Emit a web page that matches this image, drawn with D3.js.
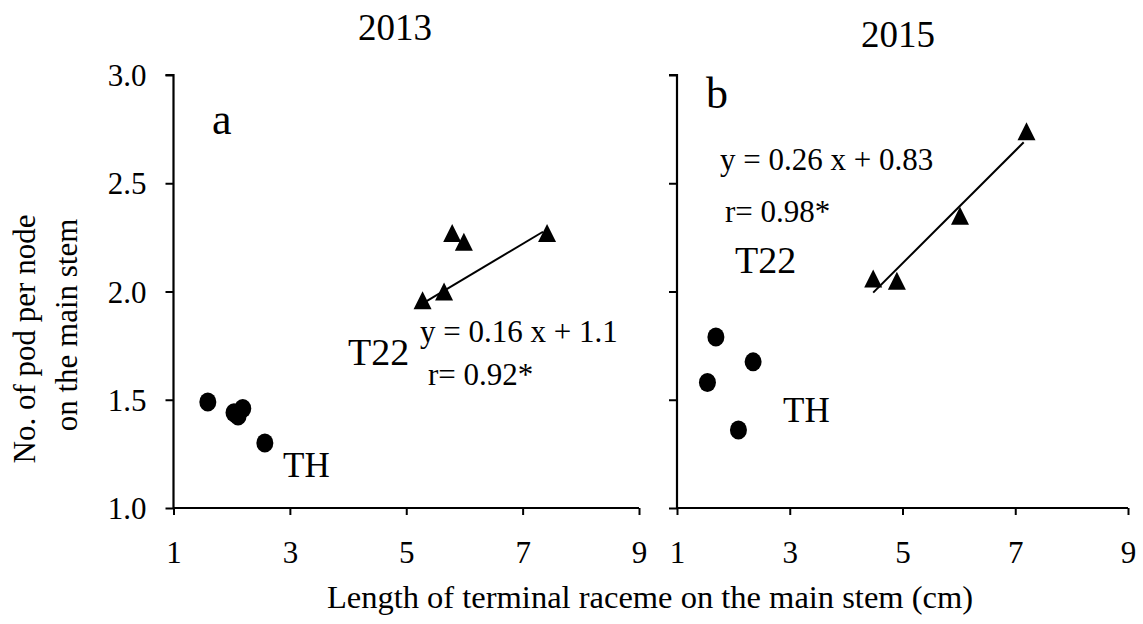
<!DOCTYPE html>
<html>
<head>
<meta charset="utf-8">
<script src="https://cdn.jsdelivr.net/npm/d3@7"></script>
<style>
  body { margin: 0; background: #fff; }
  text { font-family: "Liberation Serif", "Times New Roman", serif; fill: #000; }
</style>
</head>
<body>
<svg id="chart" width="1143" height="624"></svg>
<script>
// data
const years = ["2013", "2015"];
const panelLetters = ["a", "b"];
const xTicks = [1, 3, 5, 7, 9];
const yTicks = [1.0, 1.5, 2.0, 2.5, 3.0];

// TH (circles)
const th2013X = [1.59, 2.04, 2.19, 2.11, 2.57];
const th2013Y = [1.49, 1.44, 1.46, 1.425, 1.30];
const th2015X = [1.69, 2.35, 1.54, 2.09];
const th2015Y = [1.79, 1.675, 1.58, 1.36];

// T22 (triangles)
const t22_2013X = [5.28, 5.65, 5.79, 5.99, 7.42];
const t22_2013Y = [1.96, 2.00, 2.27, 2.23, 2.27];
const t22_2015X = [4.48, 4.90, 6.02, 7.20];
const t22_2015Y = [2.06, 2.05, 2.35, 2.74];

// regression: slope, intercept, x range of drawn line
const fitSlope = [0.16, 0.26];
const fitIntercept = [1.1, 0.83];
const fitRange = [[5.35, 7.35], [4.48, 7.15]];
const eqText = ["y = 0.16 x + 1.1", "y = 0.26 x + 0.83"];
const rText = ["r= 0.92*", "r= 0.98*"];

const svg = d3.select("#chart");

const panels = [
  { x0: 173.5, x1: 639, th: [th2013X, th2013Y], t22: [t22_2013X, t22_2013Y], yLabels: true },
  { x0: 677, x1: 1128, th: [th2015X, th2015Y], t22: [t22_2015X, t22_2015Y], yLabels: false }
];

// text positions per panel (pixels)
const labelPos = [
  { year: [395, 40], letter: [212, 134], eq: [420, 342], r: [428, 385], t22: [348, 365], th: [283, 477] },
  { year: [898, 47], letter: [706, 108], eq: [720, 170], r: [725, 222], t22: [735, 273], th: [783, 422] }
];

const y = d3.scaleLinear().domain([1, 3]).range([508, 75]);

function triangle(w, h) {
  return `M0,${-h / 2}L${w / 2},${h / 2}L${-w / 2},${h / 2}Z`;
}

panels.forEach((p, i) => {
  const x = d3.scaleLinear().domain([1, 9]).range([p.x0, p.x1]);
  const g = svg.append("g");

  // axes
  const yAxis = g.append("g")
    .attr("transform", `translate(${p.x0},0)`)
    .call(d3.axisLeft(y).tickValues(yTicks).tickSize(8)
      .tickFormat(p.yLabels ? d3.format(".1f") : () => ""));
  const xAxis = g.append("g")
    .attr("transform", `translate(0,${y(1)})`)
    .call(d3.axisBottom(x).tickValues(xTicks).tickSize(7).tickFormat(d3.format("d")));

  [yAxis, xAxis].forEach(a => {
    a.attr("font-family", null).attr("font-size", null);
    a.select(".domain").attr("stroke", "#000").attr("stroke-width", 2.2);
    a.selectAll(".tick line").attr("stroke", "#000").attr("stroke-width", 2);
    a.selectAll(".tick text")
      .attr("font-family", "'Liberation Serif', 'Times New Roman', serif")
      .style("font-size", "31px")
      .attr("fill", "#000");
  });
  yAxis.select(".domain").attr("d", `M-8,${y(3)}H0V${y(1)}`);
  xAxis.select(".domain").attr("d", `M0,0H${p.x1 - p.x0}`).attr("transform", `translate(${p.x0},0)`);
  yAxis.selectAll(".tick text").attr("x", -27).attr("dy", "0.34em");
  xAxis.selectAll(".tick text").attr("y", 0).attr("dy", 0)
    .attr("transform", "translate(0,55)");

  // regression line
  const fx = fitRange[i];
  g.append("line")
    .attr("x1", x(fx[0])).attr("y1", y(fitSlope[i] * fx[0] + fitIntercept[i]))
    .attr("x2", x(fx[1])).attr("y2", y(fitSlope[i] * fx[1] + fitIntercept[i]))
    .attr("stroke", "#000").attr("stroke-width", 2);

  // TH circles
  g.selectAll(".th").data(p.th[0].map((v, k) => [v, p.th[1][k]]))
    .enter().append("ellipse")
    .attr("cx", d => x(d[0])).attr("cy", d => y(d[1]))
    .attr("rx", 8.5).attr("ry", 9.5).attr("fill", "#000");

  // T22 triangles
  g.selectAll(".t22").data(p.t22[0].map((v, k) => [v, p.t22[1][k]]))
    .enter().append("path")
    .attr("d", triangle(18, 18))
    .attr("transform", d => `translate(${x(d[0])},${y(d[1])})`)
    .attr("fill", "#000");

  // labels
  const lp = labelPos[i];
  svg.append("text").attr("x", lp.year[0]).attr("y", lp.year[1])
    .attr("text-anchor", "middle").style("font-size", "37px").text(years[i]);
  svg.append("text").attr("x", lp.letter[0]).attr("y", lp.letter[1])
    .style("font-size", "44px").text(panelLetters[i]);
  svg.append("text").attr("x", lp.eq[0]).attr("y", lp.eq[1])
    .style("font-size", "31px").text(eqText[i]);
  svg.append("text").attr("x", lp.r[0]).attr("y", lp.r[1])
    .style("font-size", "31px").text(rText[i]);
  svg.append("text").attr("x", lp.t22[0]).attr("y", lp.t22[1])
    .style("font-size", "38px").text("T22");
  svg.append("text").attr("x", lp.th[0]).attr("y", lp.th[1])
    .style("font-size", "35px").text("TH");
});

// axis titles
svg.append("text")
  .attr("transform", "translate(35,339) rotate(-90)")
  .attr("text-anchor", "middle").style("font-size", "31px")
  .text("No. of pod per node");
svg.append("text")
  .attr("transform", "translate(77,325) rotate(-90)")
  .attr("text-anchor", "middle").style("font-size", "31px")
  .text("on the main stem");
svg.append("text")
  .attr("x", 650).attr("y", 608)
  .attr("text-anchor", "middle").style("font-size", "32.5px")
  .text("Length of terminal raceme on the main stem (cm)");
</script>
</body>
</html>
